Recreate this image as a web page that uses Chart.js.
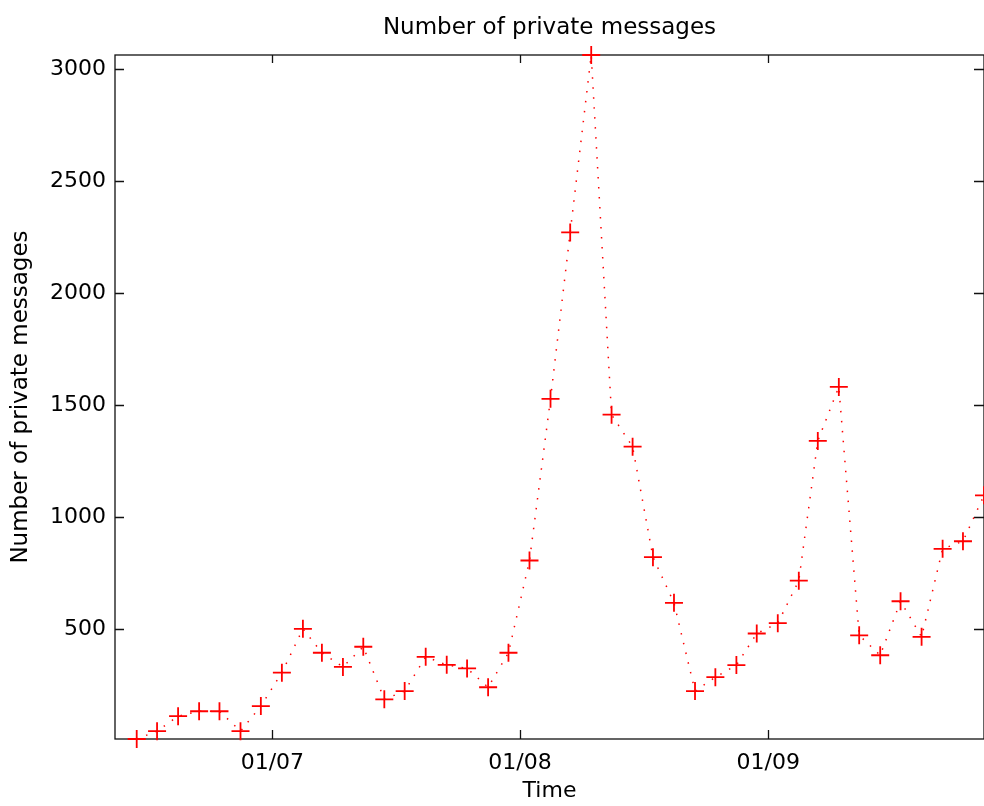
<!DOCTYPE html>
<html>
<head>
<meta charset="utf-8">
<script src="https://cdn.jsdelivr.net/npm/chart.js@4"></script>
<style>
  html, body { margin: 0; padding: 0; background: #fff; overflow: hidden; }
</style>
</head>
<body>
<canvas id="msg-canvas" width="984" height="806"></canvas>
<script>
// one point per month, plotted mid-month
const months = [
  '2006-06','2006-07','2006-08','2006-09','2006-10','2006-11','2006-12',
  '2007-01','2007-02','2007-03','2007-04','2007-05','2007-06','2007-07','2007-08','2007-09','2007-10','2007-11','2007-12',
  '2008-01','2008-02','2008-03','2008-04','2008-05','2008-06','2008-07','2008-08','2008-09','2008-10','2008-11','2008-12',
  '2009-01','2009-02','2009-03','2009-04','2009-05','2009-06','2009-07','2009-08','2009-09','2009-10','2009-11'
]
const messages = [
  8, 43, 110, 132, 132, 43, 155,
  304, 500, 393, 330, 420, 185, 222, 375, 339, 323, 239, 393,
  805, 1527, 2270, 3062, 1456, 1313, 820, 616, 222, 284, 338, 479,
  525, 715, 1339, 1580, 471, 382, 623, 464, 857, 891, 1096
]
const xTickDates = ['2007-01-01', '2008-01-01', '2009-01-01']
const xTickLabels = ['01/07', '01/08', '01/09']
const yTicks = [500, 1000, 1500, 2000, 2500, 3000]

const DAY = 86400000
const toDay = s => { const p = s.split('-').map(Number); return Date.UTC(p[0], p[1] - 1, p[2] || 15) / DAY }

const points = months.map((m, i) => ({ x: toDay(m), y: messages[i] }))
const xTickDays = xTickDates.map(toDay)

const FONT = 'DejaVu Sans'

// box round the axes with inward ticks on all four sides
const frame = {
  id: 'frame',
  beforeDatasetsDraw(chart) {
    const { ctx, chartArea: a, scales: { x, y } } = chart
    ctx.save()
    ctx.strokeStyle = '#111'
    ctx.lineWidth = 1.3
    ctx.strokeRect(a.left, a.top, a.right - a.left, a.bottom - a.top)
    ctx.beginPath()
    x.ticks.forEach(t => {
      const px = Math.round(x.getPixelForValue(t.value)) + 0.5
      ctx.moveTo(px, a.bottom); ctx.lineTo(px, a.bottom - 9)
      ctx.moveTo(px, a.top); ctx.lineTo(px, a.top + 8)
    })
    y.ticks.forEach(t => {
      const py = Math.round(y.getPixelForValue(t.value)) + 0.5
      ctx.moveTo(a.left, py); ctx.lineTo(a.left + 9, py)
      ctx.moveTo(a.right, py); ctx.lineTo(a.right - 10, py)
    })
    ctx.stroke()
    ctx.restore()
  }
}

const chart = new Chart(document.getElementById('msg-canvas').getContext('2d'), {
  type: 'line',
  data: {
    datasets: [{
      label: 'Number of private messages',
      data: points,
      borderColor: '#ff0000',
      borderWidth: 1.5,
      borderDash: [1.5, 8.5],
      fill: false,
      tension: 0,
      pointStyle: 'cross',
      pointRadius: 9,
      pointBorderWidth: 1.8,
      pointBorderColor: '#ff0000',
      pointHoverRadius: 9,
      clip: false
    }]
  },
  options: {
    responsive: false,
    animation: false,
    events: [],
    layout: { autoPadding: false, padding: { left: 0, right: -2, top: 0, bottom: 0 } },
    plugins: {
      legend: { display: false },
      tooltip: { enabled: false },
      title: {
        display: true,
        fullSize: false,
        text: 'Number of private messages',
        color: '#000',
        font: { family: FONT, size: 23, weight: 'normal', lineHeight: 1.2 },
        padding: { top: 14, bottom: 13.4 }
      }
    },
    scales: {
      x: {
        type: 'linear',
        position: 'bottom',
        min: toDay('2006-05-14'),
        max: toDay('2009-11-15'),
        grid: { display: false, drawTicks: false },
        border: { display: false },
        afterBuildTicks: s => { s.ticks = xTickDays.map(v => ({ value: v })) },
        afterFit: s => { s.height = 67 },
        ticks: {
          autoSkip: false,
          maxRotation: 0,
          padding: 11,
          color: '#000',
          font: { family: FONT, size: 22 },
          callback: v => xTickLabels[xTickDays.indexOf(v)]
        },
        title: {
          display: true,
          text: 'Time',
          color: '#000',
          font: { family: FONT, size: 22, lineHeight: 1 },
          padding: { top: 0, bottom: 4 }
        }
      },
      y: {
        type: 'linear',
        position: 'left',
        min: 8,
        max: 3062,
        grid: { display: false, drawTicks: false },
        border: { display: false },
        afterBuildTicks: s => { s.ticks = yTicks.map(v => ({ value: v })) },
        afterFit: s => { s.width = 115 },
        ticks: {
          padding: 9,
          color: '#000',
          font: { family: FONT, size: 22 },
          callback: v => String(v)
        },
        title: {
          display: true,
          text: 'Number of private messages',
          color: '#000',
          font: { family: FONT, size: 23, lineHeight: 1 },
          padding: { top: 10, bottom: 0 }
        }
      }
    }
  },
  plugins: [frame]
})
</script>
</body>
</html>
